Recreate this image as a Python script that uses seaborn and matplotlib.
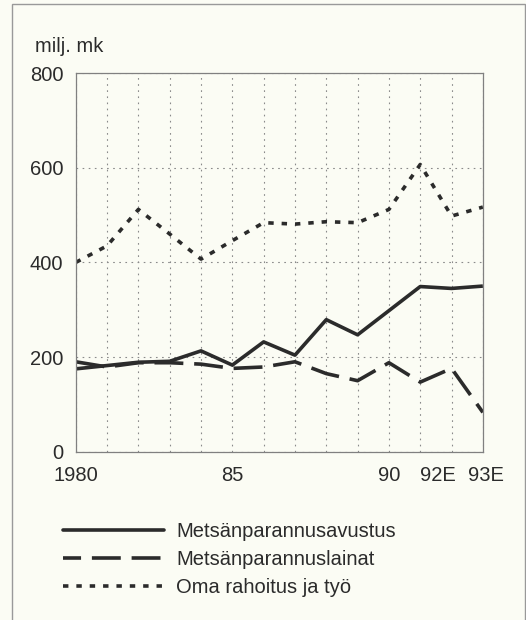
import seaborn as sns
import matplotlib.pyplot as plt
import matplotlib.transforms as mtransforms
import pandas as pd
from matplotlib.lines import Line2D
from matplotlib.patches import Rectangle

years = list(range(1980, 1994))
year_labels = ['1980', '', '', '', '', '85', '', '', '', '', '90', '', '92E', '93E']

avustus = [175, 182, 189, 191, 213, 183, 232, 204, 279, 247, 298, 349, 345, 350]
lainat = [190, 179, 188, 188, 185, 176, 179, 190, 165, 150, 188, 147, 176, 83]
oma = [400, 435, 512, 460, 407, 446, 484, 481, 486, 484, 512, 607, 498, 517]

names = ['Metsänparannusavustus', 'Metsänparannuslainat', 'Oma rahoitus ja työ']

df = pd.DataFrame({'year': years, names[0]: avustus, names[1]: lainat, names[2]: oma})

bg = '#fbfcf4'
ink = '#2b2b2b'
sns.set_style('white')
plt.rcParams['font.family'] = ['Liberation Sans', 'DejaVu Sans']

fig = plt.figure(figsize=(5.26, 6.2), dpi=100, facecolor=bg)
ax = fig.add_axes([0.144, 0.2715, 0.774, 0.6105])
ax.set_facecolor(bg)

lw = 2.6
dash = (0, (8.0, 3.0))
dots = (0, (1.5, 2.2))
sns.lineplot(data=df, x='year', y=names[0], ax=ax, color=ink, linewidth=lw)
sns.lineplot(data=df, x='year', y=names[1], ax=ax, color=ink, linewidth=lw)
sns.lineplot(data=df, x='year', y=names[2], ax=ax, color=ink, linewidth=lw)
ax.lines[1].set_linestyle(dash)
ax.lines[2].set_linestyle(dots)
for ln in ax.lines:
    ln.set_dash_capstyle('butt')
    ln.set_solid_capstyle('butt')

ax.set_xlim(1980, 1993)
ax.set_ylim(0, 800)
ax.set_xticks(years)
ax.set_xticklabels(year_labels)
ax.set_yticks([0, 200, 400, 600, 800])
ax.set(xlabel='', ylabel='')
ax.tick_params(axis='x', direction='inout', length=9, width=0.8, color='#777777',
               labelsize=14.5, pad=6, labelcolor=ink)
ax.tick_params(axis='y', direction='out', length=7, width=0.8, color='#777777',
               labelsize=14.5, pad=2, labelcolor=ink)
for s in ax.spines.values():
    s.set_color('#808080')
    s.set_linewidth(0.9)

# nudge crowded end labels apart
tl = ax.get_xticklabels()
tl[12].set_transform(tl[12].get_transform() + mtransforms.ScaledTranslation(-0.14, 0, fig.dpi_scale_trans))
tl[13].set_transform(tl[13].get_transform() + mtransforms.ScaledTranslation(0.03, 0, fig.dpi_scale_trans))

ax.grid(True, color='#8a8a8a', linestyle=(0, (1.5, 4)), linewidth=0.8)
ax.set_axisbelow(True)

fig.text(35 / 526, 1 - 47 / 620, 'milj. mk', fontsize=14.5, color=ink, va='center')

handles = [
    Line2D([], [], color=ink, linewidth=lw),
    Line2D([], [], color=ink, linewidth=lw, linestyle=(3, (8.0, 3.0))),
    Line2D([], [], color=ink, linewidth=lw, linestyle=(0, (1.5, 2.2))),
]
leg = fig.legend(handles, names, loc='upper left', bbox_to_anchor=(45 / 526, 1 - 504 / 620),
                 frameon=False, fontsize=14.5, handlelength=5, handletextpad=0.6,
                 labelspacing=0.45, labelcolor=ink)

fig.add_artist(Rectangle((12 / 526, -0.01), (525 - 12) / 526, 1 - 4 / 620 + 0.01,
                         transform=fig.transFigure, fill=False, edgecolor='#999999',
                         linewidth=1.0))

fig.savefig('out.png', dpi=100, facecolor=bg)
